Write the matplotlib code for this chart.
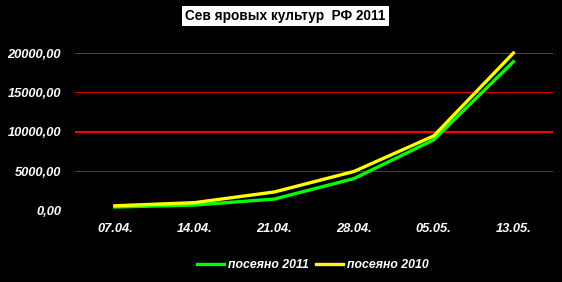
import matplotlib
matplotlib.use("agg")
import matplotlib.pyplot as plt
from matplotlib.ticker import FuncFormatter

# data
dates = ["07.04.", "14.04.", "21.04.", "28.04.", "05.05.", "13.05."]
sown_2011 = [500, 750, 1500, 4100, 9000, 18900]
sown_2010 = [650, 1050, 2400, 5000, 9500, 20000]
yticks = [0, 5000, 10000, 15000, 20000]

plt.rcParams["font.family"] = ["Liberation Sans", "DejaVu Sans"]

fig = plt.figure(figsize=(5.62, 2.82), dpi=100, facecolor="black")
ax = fig.add_axes([0.1335, 0.252, 0.851, 0.560], facecolor="black")

x = range(len(dates))
ax.plot(x, sown_2011, color="#00ff00", lw=2.4, label="посеяно 2011", clip_on=False, zorder=3)
ax.plot(x, sown_2010, color="#ffff00", lw=2.4, label="посеяно 2010", clip_on=False, zorder=4)

ax.set_xlim(-0.5, len(dates) - 0.5)
ax.set_ylim(0, 20000)
ax.set_yticks(yticks)
ax.yaxis.set_major_formatter(FuncFormatter(lambda v, p: f"{v:.2f}".replace(".", ",")))
ax.set_xticks(list(x))
ax.set_xticklabels(dates)

for v in yticks[1:]:
    if v == 10000:
        ax.axhline(v, color="#ff0000", lw=1.5, zorder=1)
    else:
        ax.axhline(v, color="#e00000", lw=0.75, zorder=1)

for s in ax.spines.values():
    s.set_visible(False)
ax.tick_params(length=0, colors="white")
ax.tick_params(axis="y", pad=10)
ax.tick_params(axis="x", pad=9)
for lab in ax.get_xticklabels() + ax.get_yticklabels():
    lab.set_fontweight("bold")
    lab.set_fontstyle("italic")
    lab.set_fontsize(9.3)

fig.text(0.508, 0.943, "Сев яровых культур  РФ 2011", ha="center", va="center",
         fontsize=9.8, fontweight="bold", color="black",
         bbox=dict(facecolor="white", edgecolor="none", pad=2.3))

leg = fig.legend(loc="center", bbox_to_anchor=(0.557, 0.06), ncol=2, frameon=False,
                 handlelength=2.2, handletextpad=0.3, columnspacing=0.6,
                 prop=dict(weight="bold", style="italic", size=8.8))
for t in leg.get_texts():
    t.set_color("white")

fig.savefig("out.png", dpi=100, facecolor="black")
